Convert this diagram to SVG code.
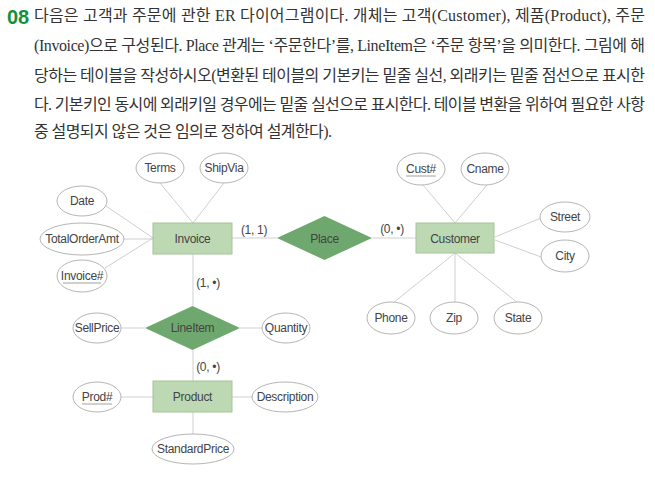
<svg xmlns="http://www.w3.org/2000/svg" width="655" height="481" viewBox="0 0 655 481">
<style>
.q{font-family:"Liberation Serif","Noto Sans CJK KR",serif;font-size:16px;fill:#333}
.num{font-family:"Liberation Sans","Noto Sans",sans-serif;font-weight:bold;font-size:20px;fill:#12913a}
.t{font-family:"Liberation Sans",Arial,sans-serif;font-size:12px;letter-spacing:-0.3px;fill:#444;text-anchor:middle}
.ent{fill:#bcd9b3;stroke:#a3c497;stroke-width:1}
.rel{fill:#6fa86e;stroke:none}
.att{fill:#fff;stroke:#b5b5b5;stroke-width:1}
.ln{stroke:#cfcfcf;stroke-width:1;fill:none}
.ul{stroke:#888;stroke-width:0.8}
</style>
<rect width="655" height="481" fill="#fff"/>
<g id="question">
<text class="num" x="7" y="24">08</text>
<text class="q" x="34" y="21" textLength="611" lengthAdjust="spacing">다음은 고객과 주문에 관한 ER 다이어그램이다. 개체는 고객(Customer), 제품(Product), 주문</text>
<text class="q" x="34" y="51" textLength="611" lengthAdjust="spacing">(Invoice)으로 구성된다. Place 관계는 ‘주문한다’를, LineItem은 ‘주문 항목’을 의미한다. 그림에 해</text>
<text class="q" x="34" y="81" textLength="611" lengthAdjust="spacing">당하는 테이블을 작성하시오(변환된 테이블의 기본키는 밑줄 실선, 외래키는 밑줄 점선으로 표시한</text>
<text class="q" x="34" y="110" textLength="611" lengthAdjust="spacing">다. 기본키인 동시에 외래키일 경우에는 밑줄 실선으로 표시한다. 테이블 변환을 위하여 필요한 사항</text>
<text class="q" x="34" y="137" textLength="298" lengthAdjust="spacing">중 설명되지 않은 것은 임의로 정하여 설계한다).</text>
</g>
<g id="connectors">
<line class="ln" x1="160" y1="183" x2="193" y2="223"/>
<line class="ln" x1="224" y1="183" x2="193" y2="223"/>
<line class="ln" x1="106" y1="206" x2="153" y2="238"/>
<line class="ln" x1="124" y1="239" x2="153" y2="239"/>
<line class="ln" x1="105" y1="268" x2="153" y2="238"/>
<line class="ln" x1="232" y1="238" x2="277" y2="238"/>
<line class="ln" x1="372" y1="238" x2="416" y2="238"/>
<line class="ln" x1="193" y1="254" x2="193" y2="306"/>
<line class="ln" x1="121" y1="328" x2="145" y2="328"/>
<line class="ln" x1="240" y1="328" x2="262" y2="328"/>
<line class="ln" x1="193" y1="350" x2="193" y2="381"/>
<line class="ln" x1="121" y1="397" x2="153" y2="397"/>
<line class="ln" x1="232" y1="397" x2="252" y2="397"/>
<line class="ln" x1="193" y1="412" x2="193" y2="434"/>
<line class="ln" x1="423" y1="185" x2="455" y2="223"/>
<line class="ln" x1="487" y1="185" x2="455" y2="223"/>
<line class="ln" x1="541" y1="218" x2="495" y2="237"/>
<line class="ln" x1="541" y1="257" x2="495" y2="240"/>
<line class="ln" x1="393" y1="303" x2="455" y2="253"/>
<line class="ln" x1="455" y1="302" x2="455" y2="253"/>
<line class="ln" x1="518" y1="303" x2="455" y2="253"/>
<text class="t" x="254" y="234">(1, 1)</text>
<text class="t" x="392" y="233">(0, •)</text>
<text class="t" x="208" y="287">(1, •)</text>
<text class="t" x="208" y="371">(0, •)</text>
</g>
<g id="Invoice"><rect class="ent" x="153" y="223" width="79" height="31"/><text class="t" x="192.5" y="243">Invoice</text></g>
<g id="Place"><polygon class="rel" points="277,238 324.5,216 372,238 324.5,260"/><text class="t" x="324.5" y="243">Place</text></g>
<g id="Customer"><rect class="ent" x="416" y="223" width="78" height="30"/><text class="t" x="455" y="243">Customer</text></g>
<g id="LineItem"><polygon class="rel" points="145,328 192.5,306 240,328 192.5,350"/><text class="t" x="192.5" y="332">LineItem</text></g>
<g id="Product"><rect class="ent" x="153" y="381" width="79" height="31"/><text class="t" x="192.5" y="401">Product</text></g>
<g id="Terms"><ellipse class="att" cx="160" cy="168" rx="24" ry="15"/><text class="t" x="160" y="172">Terms</text></g>
<g id="ShipVia"><ellipse class="att" cx="224" cy="168" rx="24" ry="15"/><text class="t" x="224" y="172">ShipVia</text></g>
<g id="Date"><ellipse class="att" cx="82" cy="201" rx="25" ry="15"/><text class="t" x="82" y="205">Date</text></g>
<g id="TotalOrderAmt"><ellipse class="att" cx="82" cy="239" rx="42" ry="16"/><text class="t" x="82" y="243">TotalOrderAmt</text></g>
<g id="InvoiceNo"><ellipse class="att" cx="82" cy="276" rx="25" ry="16"/><text class="t" x="82" y="280">Invoice#</text><line class="ul" x1="63" y1="283" x2="101" y2="283"/></g>
<g id="SellPrice"><ellipse class="att" cx="97" cy="328" rx="24" ry="15"/><text class="t" x="97" y="332">SellPrice</text></g>
<g id="Quantity"><ellipse class="att" cx="286" cy="328" rx="24" ry="15"/><text class="t" x="286" y="332">Quantity</text></g>
<g id="ProdNo"><ellipse class="att" cx="97" cy="397" rx="24" ry="15"/><text class="t" x="97" y="401">Prod#</text><line class="ul" x1="82" y1="404" x2="112" y2="404"/></g>
<g id="Description"><ellipse class="att" cx="285" cy="397" rx="33" ry="15"/><text class="t" x="285" y="401">Description</text></g>
<g id="StandardPrice"><ellipse class="att" cx="193" cy="449" rx="41" ry="15"/><text class="t" x="193" y="453">StandardPrice</text></g>
<g id="CustNo"><ellipse class="att" cx="421" cy="169" rx="24" ry="16"/><text class="t" x="421" y="173">Cust#</text><line class="ul" x1="406" y1="176" x2="436" y2="176"/></g>
<g id="Cname"><ellipse class="att" cx="485" cy="169" rx="24" ry="16"/><text class="t" x="485" y="173">Cname</text></g>
<g id="Street"><ellipse class="att" cx="565" cy="217" rx="25" ry="15"/><text class="t" x="565" y="221">Street</text></g>
<g id="City"><ellipse class="att" cx="565" cy="256" rx="24" ry="16"/><text class="t" x="565" y="260">City</text></g>
<g id="Phone"><ellipse class="att" cx="391" cy="318" rx="24" ry="16"/><text class="t" x="391" y="322">Phone</text></g>
<g id="Zip"><ellipse class="att" cx="454" cy="318" rx="24" ry="16"/><text class="t" x="454" y="322">Zip</text></g>
<g id="State"><ellipse class="att" cx="518" cy="318" rx="24" ry="16"/><text class="t" x="518" y="322">State</text></g>
</svg>
